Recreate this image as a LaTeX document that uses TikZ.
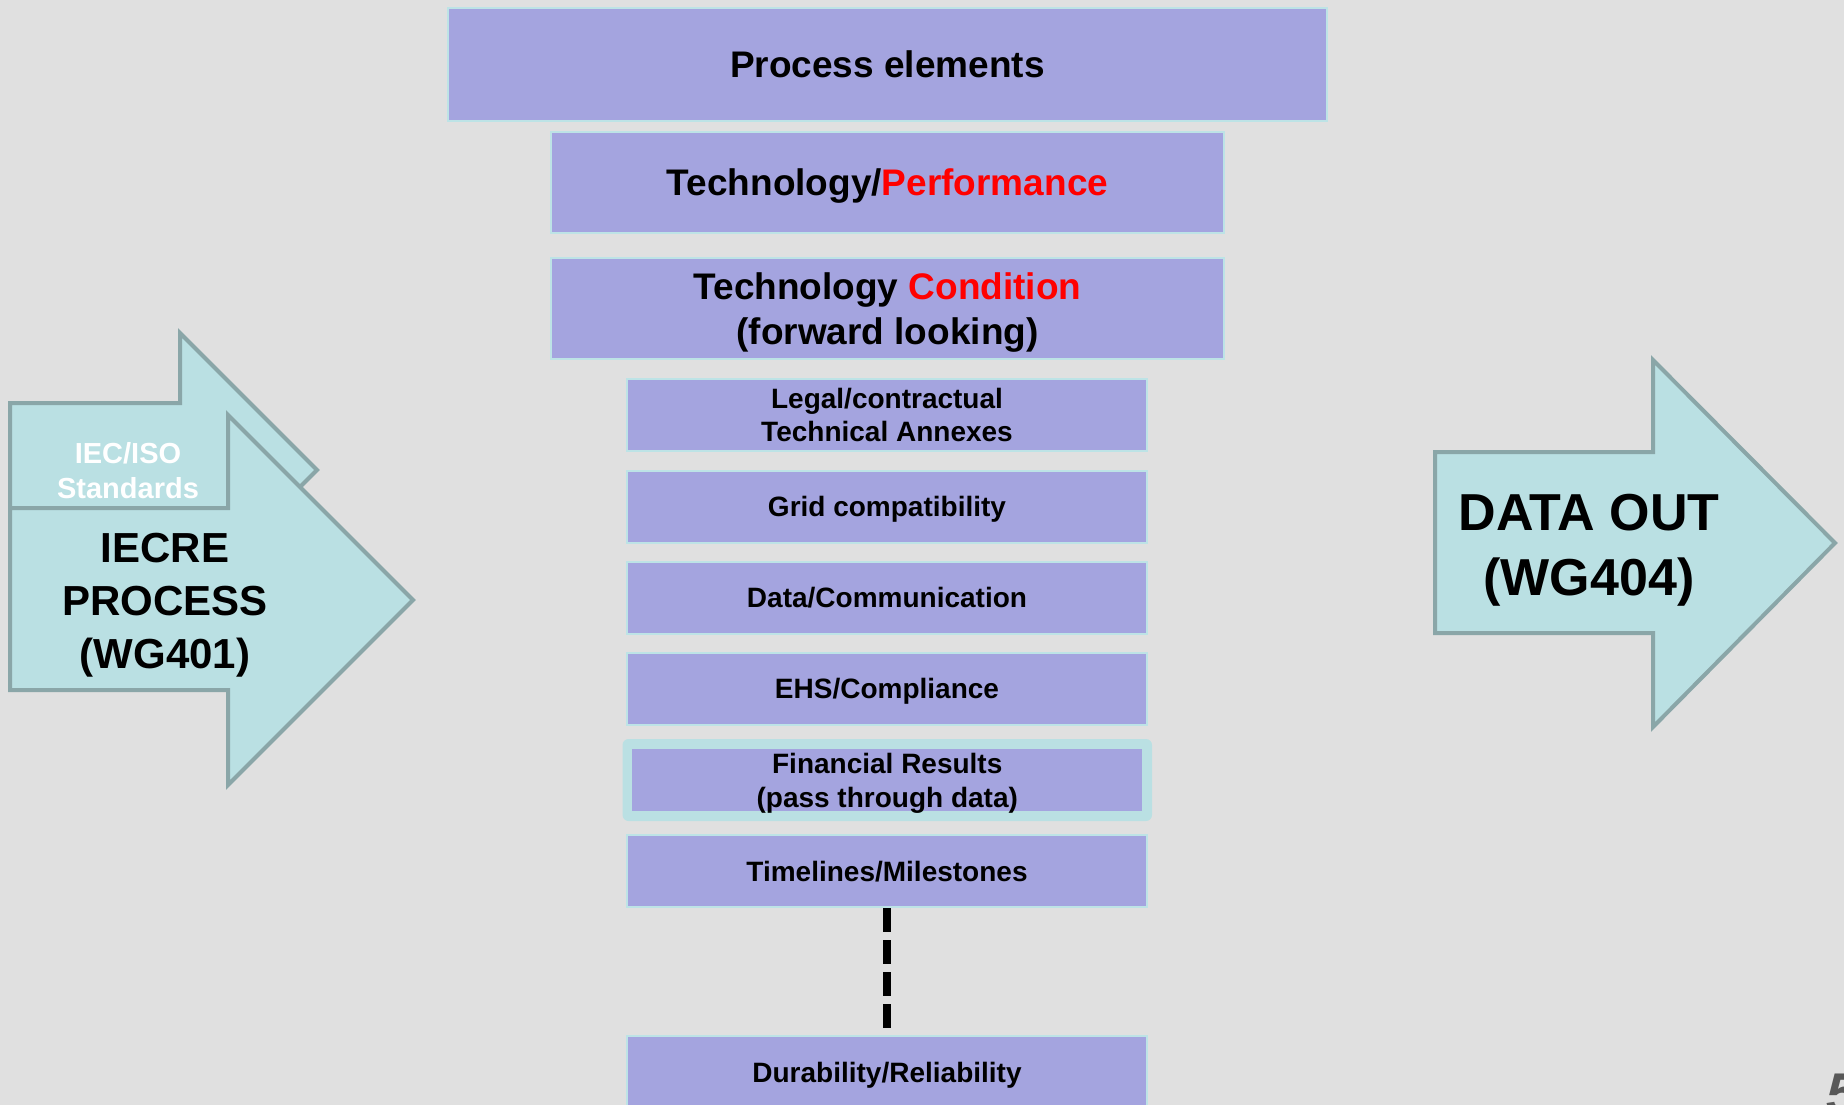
\documentclass[tikz,border=0pt]{standalone}
\usepackage{fontspec}
\setmainfont{Liberation Sans}
\definecolor{bgc}{HTML}{E0E0E0}
\definecolor{boxfill}{HTML}{A4A4DF}
\definecolor{boxline}{HTML}{BDE3E6}
\definecolor{arrowfill}{HTML}{BAE0E3}
\definecolor{arrowline}{HTML}{8AA6A8}
\definecolor{pnum}{HTML}{585858}
\newcommand\myfs[2]{\fontsize{#1}{#2}\selectfont\bfseries}
\begin{document}
\begin{tikzpicture}[x=1pt,y=-1pt,
  pbox/.style={draw=boxline, line width=2pt, fill=boxfill, inner sep=0pt, align=center, text=black, text depth=0pt},
  bigbox/.style={pbox, minimum width=673pt, minimum height=101pt, font=\myfs{37}{45}},
  smallbox/.style={pbox, minimum width=520pt, minimum height=72pt, font=\myfs{28}{33}},
  arrowshape/.style={draw=arrowline, line width=4pt, fill=arrowfill, line join=miter},
  arrowtext/.style={align=center, inner sep=0pt, text depth=0pt}]
\useasboundingbox (0,0) rectangle (1844,1105);
\fill[bgc] (0,0) rectangle (1844,1105);

% left arrows
\draw[arrowshape] (10,403) -- (180,403) -- (180,333) -- (317,470) -- (180,607) -- (180,537) -- (10,537) -- cycle;
\draw[arrowshape] (10,508) -- (228,508) -- (228,415) -- (413,600) -- (228,785) -- (228,690) -- (10,690) -- cycle;
\node[arrowtext, text=white, font=\myfs{29}{35}] (iso) at (128,470) {IEC/ISO\\Standards};
\node[arrowtext, font=\myfs{42}{53}] (iecre) at (165,601) {IECRE\\PROCESS\\(WG401)};

% right arrow
\draw[arrowshape] (1435,452) -- (1653,452) -- (1653,360) -- (1835,543) -- (1653,727) -- (1653,633) -- (1435,633) -- cycle;
\node[arrowtext, font=\myfs{52}{65}] (dout) at (1589,545) {DATA OUT\\(WG404)};

% boxes
\node[pbox, minimum width=879pt, minimum height=113pt, font=\myfs{37}{44}] (pe) at (887.5,64.5) {Process elements};
\node[bigbox] (tp) at (887.5,182.5) {Technology/\textcolor{red}{Performance}};
\node[bigbox] (tc) at (887.5,308.5) {Technology \textcolor{red}{Condition}\\(forward looking)};
\node[smallbox] (legal) at (887,415) {Legal/contractual\\Technical Annexes};
\node[smallbox] (grid) at (887,506.5) {Grid compatibility};
\node[smallbox] (data) at (887,597.5) {Data/Communication};
\node[smallbox] (ehs) at (887,688.5) {EHS/Compliance};
\node[fill=arrowfill, rounded corners=6pt, minimum width=529.5pt, minimum height=82pt, inner sep=0pt] (finframe) at (887.25,780) {};
\node[pbox, draw=none, minimum width=510pt, minimum height=62pt, font=\myfs{28}{34}] (fin) at (887.25,780) {Financial Results\\(pass through data)};
\node[smallbox] (tl) at (887,871) {Timelines/Milestones};
\node[smallbox] (dur) at (887,1072) {Durability/Reliability};

\draw[line width=8pt, dash pattern=on 24pt off 8pt] (tl.south) -- (dur.north);

% page number fragment
\begin{scope}
\clip (0,0) rectangle (1844,1105);
\node[anchor=north west, inner sep=0pt, text=pnum, font=\fontsize{56}{56}\selectfont\bfseries\itshape] (pgnum) at (1826,1074) {5};
\end{scope}
\end{tikzpicture}
\end{document}
